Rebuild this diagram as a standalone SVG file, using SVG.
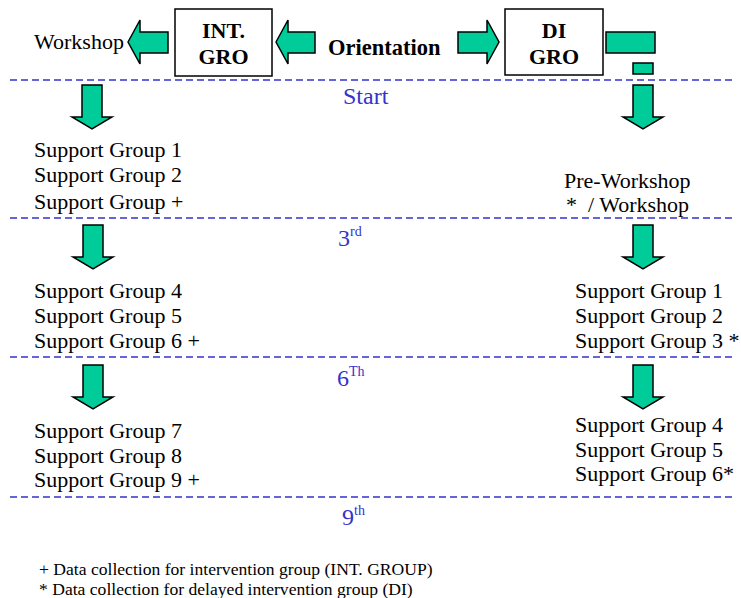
<svg xmlns="http://www.w3.org/2000/svg" width="741" height="598" viewBox="0 0 741 598">
<style>
.t{font-family:"Liberation Serif","Times New Roman",serif;font-size:22px;fill:#000}
.b{font-family:"Liberation Serif","Times New Roman",serif;font-size:22px;font-weight:bold;fill:#000}
.lbl{font-family:"Liberation Serif","Times New Roman",serif;font-size:24px;fill:#3333cc}
.sup{font-size:14px}
.fn{font-family:"Liberation Serif","Times New Roman",serif;font-size:17.6px;fill:#000}
.ar{fill:#00cc99;stroke:#000;stroke-width:1.5}
.box{fill:#fff;stroke:#000;stroke-width:1.5}
.dash{stroke:#3333cc;stroke-width:1.5;stroke-dasharray:7 4;fill:none}
</style>
<defs>
<polygon id="down" class="ar" points="-10,0 10,0 10,32 20,32 0,44 -20,32 -10,32"/>
</defs>
<rect width="741" height="598" fill="#fff"/>
<g id="separators">
<line class="dash" x1="10" y1="80" x2="735" y2="80"/>
<line class="dash" x1="10" y1="218" x2="735" y2="218"/>
<line class="dash" x1="10" y1="357" x2="735" y2="357"/>
<line class="dash" x1="10" y1="497" x2="735" y2="497"/>
</g>
<g id="connectors">
<polygon class="ar" points="128,42 140,20 140,32 168,32 168,53 140,53 140,64"/>
<polygon class="ar" points="276,42 288,20 288,32 315,32 315,53 288,53 288,64"/>
<polygon class="ar" points="458,32 487,32 487,20 499,42 487,64 487,53 458,53"/>
<rect class="ar" x="606" y="32" width="49" height="21"/>
<rect class="ar" x="633" y="63" width="20" height="11"/>
<use href="#down" x="92" y="85"/>
<use href="#down" x="643" y="85"/>
<use href="#down" x="93" y="225"/>
<use href="#down" x="643" y="225"/>
<use href="#down" x="93" y="365"/>
<use href="#down" x="643" y="365"/>
</g>
<g id="node-workshop"><text class="t" x="34" y="49">Workshop</text></g>
<g id="node-int-gro">
<rect class="box" x="175" y="9" width="97" height="67"/>
<text class="b" x="223.5" y="38" text-anchor="middle">INT.</text>
<text class="b" x="223.5" y="64" text-anchor="middle">GRO</text>
</g>
<g id="node-orientation"><text class="b" x="328" y="55" style="font-size:22.5px">Orientation</text></g>
<g id="node-di-gro">
<rect class="box" x="505" y="9" width="98" height="66"/>
<text class="b" x="554" y="38" text-anchor="middle">DI</text>
<text class="b" x="554" y="64" text-anchor="middle">GRO</text>
</g>
<g id="label-start"><text class="lbl" x="343" y="104">Start</text></g>
<g id="label-3rd"><text class="lbl" x="338" y="246">3<tspan class="sup" dy="-10">rd</tspan></text></g>
<g id="label-6th"><text class="lbl" x="337" y="386">6<tspan class="sup" dy="-10">Th</tspan></text></g>
<g id="label-9th"><text class="lbl" x="342" y="525">9<tspan class="sup" dy="-10">th</tspan></text></g>
<g id="node-int-block1">
<text class="t" x="34" y="157">Support Group 1</text>
<text class="t" x="34" y="182">Support Group 2</text>
<text class="t" x="34" y="209">Support Group +</text>
</g>
<g id="node-di-block1">
<text class="t" x="564" y="188">Pre-Workshop</text>
<text class="t" x="566" y="212" xml:space="preserve">*  / Workshop</text>
</g>
<g id="node-int-block2">
<text class="t" x="34" y="298">Support Group 4</text>
<text class="t" x="34" y="323">Support Group 5</text>
<text class="t" x="34" y="348">Support Group 6 +</text>
</g>
<g id="node-di-block2">
<text class="t" x="575" y="298">Support Group 1</text>
<text class="t" x="575" y="323">Support Group 2</text>
<text class="t" x="575" y="348">Support Group 3 *</text>
</g>
<g id="node-int-block3">
<text class="t" x="34" y="438">Support Group 7</text>
<text class="t" x="34" y="463">Support Group 8</text>
<text class="t" x="34" y="487">Support Group 9 +</text>
</g>
<g id="node-di-block3">
<text class="t" x="575" y="432">Support Group 4</text>
<text class="t" x="575" y="457">Support Group 5</text>
<text class="t" x="575" y="481">Support Group 6*</text>
</g>
<g id="footnotes">
<text class="fn" x="39" y="575">+ Data collection for intervention group (INT. GROUP)</text>
<text class="fn" x="39" y="595">* Data collection for delayed intervention group (DI)</text>
</g>
</svg>
